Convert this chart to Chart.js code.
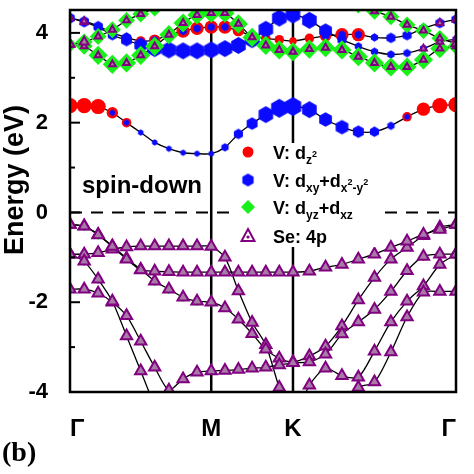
<!DOCTYPE html>
<html>
<head>
<meta charset="utf-8">
<script src="https://cdn.jsdelivr.net/npm/chart.js@4.4.0/dist/chart.umd.min.js"></script>
<style>html,body{margin:0;background:#fff}</style>
</head>
<body>
<canvas id="bands" width="474" height="474"></canvas>
<script>
// k-path Γ - M - K - Γ
const kLabels = ['Γ', 'M', 'K', 'Γ'];
const kNodes = [0, 0.577, 0.911, 1.577];
const kPoints = [0, 0.058, 0.115, 0.173, 0.231, 0.289, 0.346, 0.404, 0.462, 0.519, 0.577,
  0.633, 0.688, 0.744, 0.800, 0.855, 0.911,
  0.978, 1.044, 1.111, 1.178, 1.244, 1.311, 1.377, 1.444, 1.511, 1.577];
const yMajor = [-4, -2, 0, 2, 4];
const yMinor = [-3, -1, 1, 3];

// band energies (eV), one per k-point
const eC1 = [2.38, 2.38, 2.36, 2.22, 2.0, 1.78, 1.56, 1.42, 1.33, 1.31, 1.31,
  1.45, 1.75, 1.98, 2.18, 2.32, 2.36,
  2.29, 2.07, 1.9, 1.8, 1.8, 1.93, 2.13, 2.3, 2.38, 2.4];
const eU1 = [4.33, 4.24, 4.13, 3.95, 3.84, 3.73, 3.65, 3.62, 3.6, 3.6, 3.62,
  3.65, 3.72, 3.85, 4.08, 4.33, 4.4,
  4.28, 4.05, 3.85, 3.7, 3.58, 3.52, 3.55, 3.65, 3.8, 3.86];
const eU2 = [4.33, 4.26, 4.15, 4.0, 3.9, 3.82, 3.84, 3.96, 4.04, 4.1, 4.13,
  4.13, 4.05, 3.93, 3.88, 3.85, 3.82,
  3.88, 3.93, 3.96, 3.96, 3.9, 3.89, 3.95, 4.1, 4.22, 4.3];
const eG1 = [3.73, 3.7, 3.5, 3.3, 3.33, 3.5, 3.7, 3.96, 4.22, 4.4, 4.44,
  4.44, 4.2, 3.9, 3.72, 3.62, 3.58,
  3.64, 3.67, 3.62, 3.47, 3.33, 3.24, 3.24, 3.4, 3.65, 3.7];
const eG2 = [3.75, 3.8, 3.92, 4.07, 4.28, 4.42, 4.55, 4.7, 4.85, 4.95, 5.0,
  4.95, 4.9, 4.85, 4.8, 4.8, 4.8,
  4.8, 4.78, 4.72, 4.62, 4.48, 4.36, 4.18, 4.05, 3.88, 3.76];
const eV1 = [-0.93, -0.93, -0.9, -0.82, -0.77, -0.75, -0.75, -0.75, -0.75, -0.75, -0.76,
  -1.0, -1.75, -2.45, -2.95, -3.9, -4.6,
  -3.85, -3.47, -3.64, -3.67, -3.09, -2.44, -1.98, -1.64, -1.16, -0.93];
const eV2 = [-0.27, -0.3, -0.49, -0.75, -1.02, -1.27, -1.53, -1.71, -1.89, -1.98, -2.0,
  -2.13, -2.38, -2.7, -3.05, -3.25, -3.33,
  -3.2, -2.98, -2.53, -1.95, -1.45, -1.04, -0.78, -0.52, -0.33, -0.27];
const eV3 = [-0.27, -0.31, -0.5, -0.76, -1.04, -1.28, -1.31, -1.32, -1.33, -1.33, -1.33,
  -1.33, -1.33, -1.33, -1.33, -1.33, -1.33,
  -1.31, -1.22, -1.16, -1.04, -0.93, -0.78, -0.64, -0.49, -0.38, -0.27];
const eV4 = [-1.71, -1.71, -1.8, -2.0, -2.3, -2.87, -3.45, -3.96, -3.71, -3.56, -3.53,
  -3.52, -3.5, -3.47, -3.45, -3.4, -3.35,
  -3.33, -3.16, -2.71, -2.44, -2.16, -1.76, -1.3, -0.98, -0.93, -0.93];
const eV5 = [-0.93, -1.09, -1.49, -1.98, -2.75, -3.53, -4.3, -4.9, -5.2, -5.3, -5.3,
  -5.3, -5.3, -5.3, -5.3, -5.2, -5.1,
  -4.8, -4.6, -4.3, -3.9, -3.78, -3.11, -2.33, -1.78, -1.76, -1.76];

// orbital weights 0-9 per k-point, written Γ-M | M-K | K-Γ
// order: V dz2, V dxy+dx2-y2, V dyz+dxz, Se 4p
const wC1 = ['88865000000|000000|0000005788', '00033333333|456899|8776543000', '', ''];
const wU1 = ['', '55556788888|888888|8754444444', '', '33000000000|000000|0000000333'];
const wU2 = ['00000566777|765554|5677000000', '55555344444|400000|0444455555', '', '33000000000|000000|0000000033'];
const wG1 = ['', '', '67888888888|888888|8888888887', '33333333333|333333|3333333333'];
const wG2 = ['', '', '57777777777|777777|7777777775', '44333333333|333333|3333333334'];
const wV1 = ['', '44300000000|000000|0000000344', '', '55555555555|555555|5555555555'];
const wV2 = ['', '', '44444444444|000000|0000000444', '55555555555|555555|5555555555'];
const wV3 = ['', '', '44400000000|000000|0000000044', '55555555555|555555|5555555555'];
const wV4 = ['', '00000000000|000000|0000000444', '', '55555555555|555555|5555555555'];
const wV5 = ['', '44400000000|000000|0000000000', '', '55555555555|555555|5555555555'];

const bandList = [[eC1, wC1], [eU1, wU1], [eU2, wU2], [eG1, wG1], [eG2, wG2],
  [eV1, wV1], [eV2, wV2], [eV3, wV3], [eV4, wV4], [eV5, wV5]];

const FONT = '"Liberation Sans", Arial, sans-serif';
const BLUE = '#0a0aff';
const marks = [
  { color: '#ff0000', style: 'circle', scale: 0.95 },
  { color: BLUE, style: 'hex', scale: 1.05 },
  { color: '#19f019', style: 'rectRot', scale: 1.2 },
  { color: '#800080', style: 'triangle', scale: 1.3 }
];

function parseW(s) {
  const t = s.replace(/\|/g, '');
  return kPoints.map((_, i) => +(t[i] || 0));
}

// blue markers are hexagons
const hexCache = {};
function hexagon(r) {
  const key = r.toFixed(1);
  if (hexCache[key]) return hexCache[key];
  const c = document.createElement('canvas');
  const s = Math.ceil(2 * r + 2);
  c.width = c.height = s;
  const g = c.getContext('2d');
  g.fillStyle = BLUE;
  g.beginPath();
  for (let k = 0; k < 6; k++) {
    const a = (-90 + 60 * k) * Math.PI / 180;
    const px = s / 2 + r * Math.cos(a), py = s / 2 + r * Math.sin(a);
    k ? g.lineTo(px, py) : g.moveTo(px, py);
  }
  g.closePath();
  g.fill();
  hexCache[key] = c;
  return c;
}

const datasets = [];
bandList.forEach(([e]) => {
  datasets.push({
    data: kPoints.map((k, i) => ({ x: k, y: e[i] })),
    showLine: true, borderColor: '#000', borderWidth: 1.3,
    pointRadius: 0, tension: 0.25, order: 5
  });
});
marks.forEach((m, o) => {
  const pts = [], rad = [];
  bandList.forEach(([e, w]) => {
    parseW(w[o]).forEach((v, i) => {
      if (v > 0) { pts.push({ x: kPoints[i], y: e[i] }); rad.push(v * m.scale); }
    });
  });
  const ds = { data: pts, showLine: false, pointRadius: rad, order: 4 - o,
    pointBackgroundColor: m.color, pointBorderWidth: 0, pointStyle: m.style };
  if (m.style === 'hex') ds.pointStyle = rad.map(hexagon);
  if (m.style === 'triangle') {
    ds.pointBackgroundColor = '#a77aa7';
    ds.pointBorderColor = m.color;
    ds.pointBorderWidth = 2;
  }
  datasets.push(ds);
});

function richText(ctx, x, y, parts) {
  for (const [txt, dy, size] of parts) {
    ctx.font = `bold ${size}px ${FONT}`;
    ctx.fillText(txt, x, y + dy);
    x += ctx.measureText(txt).width;
  }
}

const legendRows = [
  [['V: d', 0, 18], ['z', 5, 12], ['2', -2, 9]],
  [['V: d', 0, 18], ['xy', 5, 12], ['+d', 0, 18], ['x', 5, 12], ['2', -2, 9], ['-y', 5, 12], ['2', -2, 9]],
  [['V: d', 0, 18], ['yz', 5, 12], ['+d', 0, 18], ['xz', 5, 12]],
  [['Se: 4p', 0, 18]]
];

const decor = {
  id: 'decor',
  beforeDatasetsDraw(chart) {
    const { ctx, chartArea: a, scales: { x, y } } = chart;
    ctx.save();
    ctx.strokeStyle = '#000';
    ctx.lineWidth = 2.5;
    kNodes.slice(1, 3).forEach(k => {
      const px = x.getPixelForValue(k);
      ctx.beginPath(); ctx.moveTo(px, a.top); ctx.lineTo(px, a.bottom); ctx.stroke();
    });
    ctx.lineWidth = 2;
    ctx.setLineDash([12, 9]);
    const py = y.getPixelForValue(0);
    ctx.beginPath(); ctx.moveTo(a.left, py); ctx.lineTo(a.right, py); ctx.stroke();
    ctx.restore();
  },
  afterDatasetsDraw(chart) {
    const { ctx, chartArea: a, scales: { y } } = chart;
    ctx.save();
    // legend
    ctx.fillStyle = '#fff';
    ctx.fillRect(238, 143, 146, 104);
    const rowsY = [152, 180, 207, 236];
    marks.forEach((m, i) => {
      const cx = 248, cy = rowsY[i];
      ctx.fillStyle = m.color;
      ctx.beginPath();
      if (i === 0) ctx.arc(cx, cy, 5.5, 0, Math.PI * 2);
      if (i === 1) ctx.drawImage(hexagon(6.5), cx - 7.5, cy - 7.5);
      if (i === 2) { ctx.moveTo(cx, cy - 7); ctx.lineTo(cx + 7, cy); ctx.lineTo(cx, cy + 7); ctx.lineTo(cx - 7, cy); }
      if (i === 3) {
        ctx.moveTo(cx, cy - 7); ctx.lineTo(cx + 6.5, cy + 5); ctx.lineTo(cx - 6.5, cy + 5); ctx.closePath();
        ctx.fillStyle = '#fff'; ctx.fill();
        ctx.strokeStyle = m.color; ctx.lineWidth = 2; ctx.stroke();
        ctx.beginPath(); ctx.fillStyle = m.color; ctx.arc(cx, cy + 1, 1.6, 0, Math.PI * 2);
      }
      ctx.fill();
      ctx.fillStyle = '#000';
      ctx.textBaseline = 'alphabetic';
      richText(ctx, 273, cy + 6.5, legendRows[i]);
    });
    ctx.font = `bold 24px ${FONT}`;
    ctx.fillText('spin-down', 82, 193);
    // frame and inward ticks
    ctx.strokeStyle = '#000';
    ctx.lineWidth = 2.5;
    ctx.strokeRect(a.left, a.top, a.right - a.left, a.bottom - a.top);
    ctx.lineWidth = 2;
    yMajor.concat(yMinor).forEach(v => {
      const py = y.getPixelForValue(v);
      const len = yMajor.includes(v) ? 10 : 5;
      ctx.beginPath(); ctx.moveTo(a.left, py); ctx.lineTo(a.left + len, py); ctx.stroke();
    });
    ctx.restore();
  },
  afterDraw(chart) {
    const { ctx } = chart;
    ctx.save();
    ctx.fillStyle = '#000';
    ctx.translate(16, 180);
    ctx.rotate(-Math.PI / 2);
    ctx.textAlign = 'center';
    ctx.textBaseline = 'middle';
    ctx.font = `bold 27px ${FONT}`;
    ctx.fillText('Energy (eV)', 0, 0);
    ctx.restore();
    ctx.save();
    ctx.fillStyle = '#000';
    ctx.font = 'bold 28px "Liberation Serif", "Times New Roman", serif';
    ctx.fillText('(b)', 2, 461);
    ctx.restore();
  }
};

new Chart(document.getElementById('bands'), {
  type: 'scatter',
  data: { datasets },
  options: {
    responsive: false,
    animation: false,
    devicePixelRatio: 1,
    layout: { padding: { left: 0, right: 18, top: 10, bottom: 0 } },
    plugins: { legend: { display: false }, tooltip: { enabled: false } },
    scales: {
      x: {
        type: 'linear', min: kNodes[0], max: kNodes[3],
        grid: { display: false }, border: { display: false },
        afterBuildTicks: s => { s.ticks = kNodes.map(v => ({ value: v })); },
        afterFit: s => { s.height = 82; s.paddingLeft = 0; s.paddingRight = 0; },
        ticks: {
          autoSkip: false, maxRotation: 0, align: 'inner', padding: 15, color: '#000',
          font: { family: FONT, size: 24, weight: 'bold' },
          callback: (v, i) => kLabels[i]
        }
      },
      y: {
        min: -4, max: 4.51,
        grid: { display: false }, border: { display: false },
        afterBuildTicks: s => { s.ticks = yMajor.map(v => ({ value: v })); },
        afterFit: s => { s.width = 70; s.paddingTop = 0; s.paddingBottom = 0; },
        ticks: {
          padding: 14, color: '#000',
          font: { family: FONT, size: 22, weight: 'bold' },
          callback: v => String(v)
        }
      }
    }
  },
  plugins: [decor]
});
</script>
</body>
</html>
